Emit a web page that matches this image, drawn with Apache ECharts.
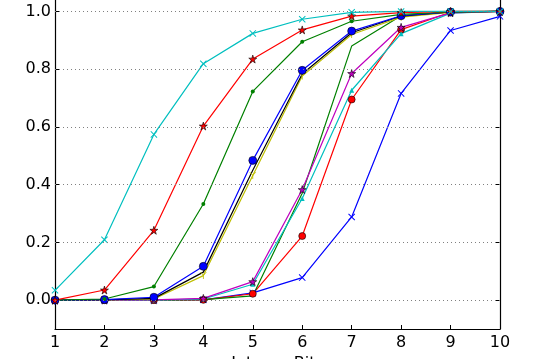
<!DOCTYPE html>
<html><head><meta charset="utf-8">
<script src="https://cdn.jsdelivr.net/npm/echarts@6/dist/echarts.min.js"></script>
<style>html,body{margin:0;padding:0;background:#fff}#c{width:544px;height:359px}</style>
</head><body><div id="c"></div>
<script>
const xValues = [1, 2, 3, 4, 5, 6, 7, 8, 9, 10];
const yTicks = [0.0, 0.2, 0.4, 0.6, 0.8, 1.0];
const xName = 'Integer Bits';

const blueCircle  = [0, 0.002, 0.010, 0.117, 0.484, 0.796, 0.932, 0.985, 0.998, 1.0];
const greenDot    = [0, 0.004, 0.047, 0.333, 0.723, 0.895, 0.966, 0.990, 0.998, 1.0];
const redStar     = [0, 0.035, 0.242, 0.603, 0.835, 0.936, 0.984, 0.996, 1.0, 1.0];
const cyanCross   = [0.034, 0.209, 0.574, 0.819, 0.924, 0.973, 0.997, 1.0, 1.0, 1.0];
const yellowTri   = [0, 0.001, 0.004, 0.085, 0.432, 0.776, 0.920, 0.980, 0.997, 1.0];
const blackLine   = [0, 0.001, 0.006, 0.097, 0.450, 0.783, 0.926, 0.984, 0.998, 1.0];
const magentaStar = [0, 0, 0.001, 0.006, 0.064, 0.383, 0.785, 0.945, 0.995, 1.0];
const cyanTri     = [0, 0, 0, 0.004, 0.055, 0.352, 0.727, 0.923, 0.994, 1.0];
const greenLate   = [0, 0, 0, 0.002, 0.015, 0.370, 0.880, 0.985, 0.999, 1.0];
const redCircle   = [0, 0, 0, 0.001, 0.022, 0.222, 0.695, 0.937, 0.997, 1.0];
const blueCross   = [0, 0, 0, 0.001, 0.025, 0.078, 0.288, 0.716, 0.934, 0.983];

const STAR = 'path://M50,0L61,35L98,35L68,57L79,91L50,70L21,91L32,57L2,35L39,35Z';
const CROSS = 'path://M0,1L1,0L5,4L9,0L10,1L6,5L10,9L9,10L5,6L1,10L0,9L4,5Z';
const TRI = 'path://M0,0L1,0L5,4L9,0L10,0L5.6,5L5.6,10L4.4,10L4.4,5Z';

function mk(name, data, color, symbol, size, edge) {
  return {
    name, type: 'line', z: 3,
    data: xValues.map((x, i) => [x, data[i]]),
    symbol, symbolSize: size, showSymbol: symbol !== 'none',
    lineStyle: { color, width: 1.2 },
    itemStyle: { color, borderColor: edge ? '#000' : color, borderWidth: edge ? 0.6 : 0 },
    emphasis: { disabled: true }, animation: false
  };
}

const series = [
  {
    type: 'line', z: 1, data: [], animation: false, silent: true,
    markLine: {
      silent: true, symbol: 'none', label: { show: false }, animation: false,
      lineStyle: { color: '#808080', type: [1, 3], width: 1 },
      data: yTicks.map(v => ({ yAxis: v }))
    }
  },
  mk('blueCross', blueCross, '#0000ff', CROSS, 7, false),
  mk('redCircle', redCircle, '#ff0000', 'circle', 7, true),
  mk('greenLate', greenLate, '#008000', 'none', 0, false),
  mk('cyanTri', cyanTri, '#00bfbf', 'triangle', 5, false),
  mk('magentaStar', magentaStar, '#bf00bf', STAR, 8, true),
  mk('yellowTri', yellowTri, '#bfbf00', TRI, 7, false),
  mk('blackLine', blackLine, '#000000', 'none', 0, false),
  mk('blueCircle', blueCircle, '#0000ff', 'circle', 8, true),
  mk('greenDot', greenDot, '#008000', 'circle', 4, false),
  mk('redStar', redStar, '#ff0000', STAR, 8, true),
  mk('cyanCross', cyanCross, '#00bfbf', CROSS, 7, false)
];

const font = 'DejaVu Sans';
const chart = echarts.init(document.getElementById('c'), null, { renderer: 'canvas' });
chart.setOption({
  animation: false,
  grid: { left: 55, right: 44, top: -3, bottom: 30, containLabel: false, outerBoundsMode: 'none' },
  xAxis: {
    type: 'value', min: 1, max: 10, interval: 1,
    name: xName, nameLocation: 'middle', nameGap: 22,
    nameTextStyle: { fontFamily: font, fontSize: 16, color: '#000' },
    axisLine: { show: true, onZero: false, lineStyle: { color: '#000', width: 1.2 } },
    axisTick: { show: true, inside: true, length: 4, lineStyle: { color: '#000' } },
    axisLabel: { fontFamily: font, fontSize: 16, color: '#000', margin: 6 },
    splitLine: { show: false }
  },
  yAxis: [{
    type: 'value', min: -0.1, max: 1.05,
    axisLine: { show: true, onZero: false, lineStyle: { color: '#000', width: 1.2 } },
    axisTick: { show: true, inside: true, length: 4, customValues: yTicks, lineStyle: { color: '#000' } },
    axisLabel: { fontFamily: font, fontSize: 16, color: '#000', margin: 4, customValues: yTicks,
      formatter: v => v.toFixed(1) },
    splitLine: { show: false }
  }, {
    type: 'value', min: -0.1, max: 1.05, position: 'right',
    axisLine: { show: true, onZero: false, lineStyle: { color: '#000', width: 1.2 } },
    axisTick: { show: true, inside: true, length: 4, customValues: yTicks, lineStyle: { color: '#000' } },
    axisLabel: { show: false },
    splitLine: { show: false }
  }],
  series
});
</script></body></html>
